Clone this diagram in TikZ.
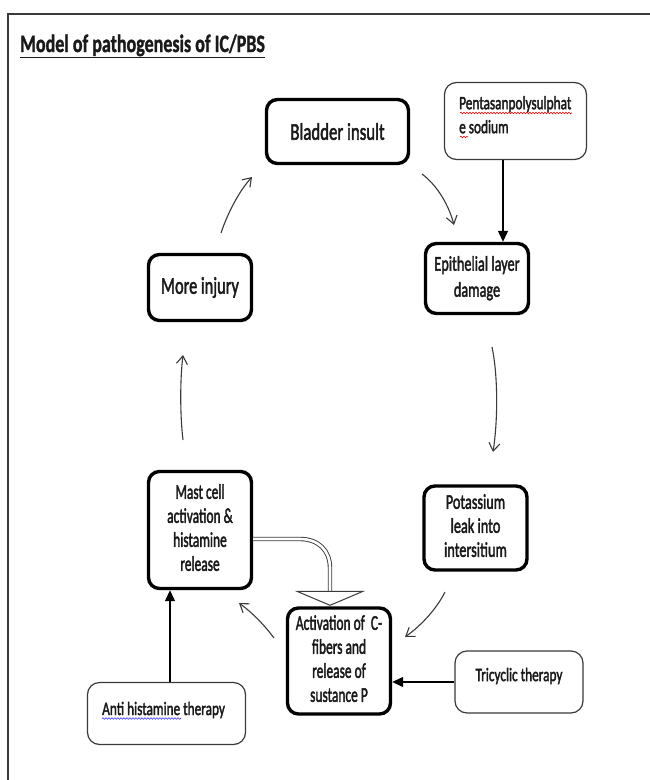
\documentclass[tikz,border=0pt]{standalone}
\usepackage{fontspec}
\setmainfont{Carlito}
\newfontfamily\heavy[FakeBold=2.4]{Carlito}
\newfontfamily\heavytitle[FakeBold=1.5]{Carlito}
\usepackage{graphicx}
\usetikzlibrary{arrows.meta,decorations.pathmorphing}
\newcommand{\narrowtext}[2]{\scalebox{#1}[1]{\begin{tabular}{@{}c@{}}#2\end{tabular}}}
\definecolor{ink}{HTML}{1A1A1A}
\definecolor{edge}{HTML}{3A3A3A}
\begin{document}
\begin{tikzpicture}[x=1pt,y=-1pt,
  thickbox/.style={draw=black, line width=3.4pt, rounded corners=11pt, inner sep=0pt, fill=white, text=ink},
  thinbox/.style={draw=edge, line width=1.2pt, rounded corners=12pt, inner sep=0pt, fill=white},
  plain/.style={inner sep=0pt, text=ink},
  flow/.style={draw=edge, line width=1.1pt, -{Straight Barb[length=8pt,width=11pt]}},
  feed/.style={draw=black, line width=1.2pt, -{Triangle[length=11pt,width=10pt]}},
  wavy/.style={decorate, decoration={snake, segment length=3pt, amplitude=0.8pt}, line width=0.6pt},
  big/.style={font=\heavy\fontsize{24}{28}\selectfont},
  mid/.style={font=\heavy\fontsize{21}{24}\selectfont},
  small/.style={font=\heavy\fontsize{19}{24}\selectfont}]
\useasboundingbox (0,0) rectangle (650,780);
\fill[white] (0,0) rectangle (650,780);
\draw[line width=1.5pt, draw=edge] (8,780) -- (8,14) -- (650,14);

% title
\node[plain, anchor=base west, font=\heavytitle\fontsize{25}{30}\selectfont] (title) at (20,52)
  {\scalebox{0.72}[1]{\underline{\textbf{Model of pathogenesis of IC/PBS}}}};

% boxes
\node[thickbox, big, minimum width=142pt, minimum height=64pt] (bladder) at (337.5,131.5)
  {\scalebox{0.7}[1]{Bladder insult}};
\node[thinbox, minimum width=142pt, minimum height=77pt] (penta) at (515.5,121) {};
\node[plain, small, anchor=north west] (pentatext) at (459,92.2)
  {\scalebox{0.7}[1]{\begin{tabular}{@{}l@{}}Pentasanpolysulphat\\e sodium\end{tabular}}};
\node[thickbox, font=\heavy\fontsize{21}{26}\selectfont, minimum width=103pt, minimum height=70pt] (epi) at (477,278.5)
  {\narrowtext{0.68}{Epithelial layer\\damage}};
\node[thickbox, mid, minimum width=103pt, minimum height=84pt] (pot) at (475.5,528)
  {\narrowtext{0.68}{Potassium\\leak into\\intersitium}};
\node[thickbox, mid, minimum width=103pt, minimum height=117pt] (mast) at (200,530)
  {\narrowtext{0.64}{Mast cell\\activation \&\\histamine\\release}};
\node[thickbox, mid, minimum width=103pt, minimum height=106pt] (act) at (339,661)
  {\narrowtext{0.64}{Activation of\ \ C-\\fibers and\\release of\\sustance P}};
\node[thickbox, big, minimum width=103pt, minimum height=66pt] (more) at (200,287.5)
  {\scalebox{0.68}[1]{More injury}};
\node[thinbox, minimum width=128pt, minimum height=62pt] (tri) at (519,682) {};
\node[plain, small] (tritext) at (519,676) {\scalebox{0.7}[1]{Tricyclic therapy}};
\node[thinbox, minimum width=158pt, minimum height=62pt] (anti) at (166.5,713.5) {};
\node[plain, small, anchor=base west] (antitext) at (102,715)
  {\scalebox{0.7}[1]{Anti histamine therapy}};

% spell-check underlines
\draw[wavy, draw=red!90!black] (460,113) -- (572,113);
\draw[wavy, draw=red!90!black] (460,137) -- (468,137);
\draw[wavy, draw=blue!80] (102,718.5) -- (181,718.5);

% cycle connectors
\coordinate (c1s) at (422,174);  \coordinate (c1e) at (454,225);
\coordinate (c2s) at (492,347);  \coordinate (c2e) at (493,452);
\coordinate (c3s) at (445,592);  \coordinate (c3e) at (405,637);
\coordinate (c4s) at (274,638);  \coordinate (c4e) at (239,603);
\coordinate (c5s) at (183,440);  \coordinate (c5e) at (183,355);
\coordinate (c6s) at (221,233);  \coordinate (c6e) at (252,177);
\draw[flow] (c1s) .. controls (438,186) and (449,206) .. (c1e);
\draw[flow] (c2s) .. controls (498,375) and (498,420) .. (c2e);
\draw[flow] (c3s) .. controls (437,608) and (422,625) .. (c3e);
\draw[flow] (c4s) .. controls (262,622) and (250,611) .. (c4e);
\draw[flow] (c5s) .. controls (180,415) and (180,380) .. (c5e);
\draw[flow] (c6s) .. controls (228,212) and (240,190) .. (c6e);

% therapy arrows
\coordinate (pe) at (503,0);
\coordinate (am) at (170,0);
\draw[feed] (penta.south -| pe) -- (epi.north -| pe);
\draw[feed] (tri.west) -- (tri.west -| act.east);
\draw[feed] (anti.north -| am) -- (mast.south -| am);

% hollow arrow mast -> activation
\coordinate (hd) at ([xshift=-9pt,yshift=1pt]act.north);
\draw[line width=0.9pt, draw=edge, double=white, double distance=2.6pt]
  ([yshift=-9pt]mast.east) -- (300,539) .. controls (318,539) and (330,550) .. (330,568) -- (330,593);
\draw[line width=1pt, draw=edge, fill=white] (hd) -- ++(-33,-14) -- ++(66,0) -- cycle;
\end{tikzpicture}
\end{document}
